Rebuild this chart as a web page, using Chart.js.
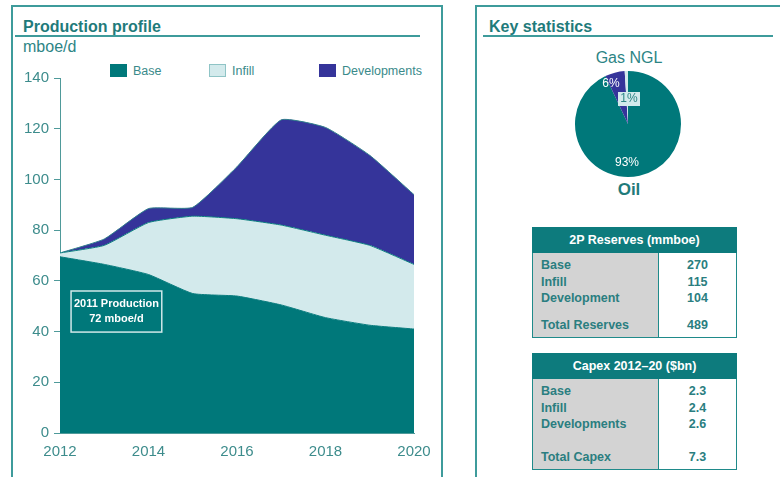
<!DOCTYPE html>
<html>
<head>
<meta charset="utf-8">
<script src="https://cdn.jsdelivr.net/npm/chart.js@4/dist/chart.umd.min.js"></script>
<style>
  html, body { margin: 0; padding: 0; background: #fff; }
  body { width: 780px; height: 477px; position: relative; overflow: hidden; font-family: "Liberation Sans", Arial, sans-serif; color: #1f7b7b; }
  .panel { position: absolute; border: 2px solid #3e9b9b; }
  .title { position: absolute; font-weight: bold; font-size: 16px; color: #1f7b7b; }
  .rule { position: absolute; height: 0; border-top: 2px solid #3e9b9b; }
  .abs { position: absolute; }
  .leg { position: absolute; font-size: 12.5px; color: #3a8a8a; line-height: 14px; }
  .leg span { display: inline-block; width: 17px; height: 13px; vertical-align: -2px; margin-right: 6px; box-sizing: border-box; }
  table { position: absolute; border-collapse: collapse; font-size: 12.5px; font-weight: bold; color: #2a7e80; }
  table th { background: #0d7b7d; color: #fff; height: 24px; padding: 0; border: 1.5px solid #0d7b7d; }
  table td { padding: 0 0 0 8px; line-height: 16.5px; }
  td.l { background: #d3d3d3; width: 117px; border-left: 1.5px solid #1f8a8a; }
  td.v { background: #fff; text-align: center; padding-left: 0; border-left: 1.5px solid #1f8a8a; border-right: 1.5px solid #1f8a8a; }
  tr.last td { border-bottom: 1.5px solid #1f8a8a; }
  #prodBox { position: absolute; left: 0; top: 0; width: 450px; height: 477px; }
  #mixBox { position: absolute; left: 574px; top: 70px; width: 108px; height: 108px; }
</style>
</head>
<body>
<div class="panel" style="left:11px; top:5px; width:428px; height:500px;"></div>
<div class="panel" style="left:475px; top:5px; width:400px; height:500px;"></div>

<div class="title" style="left:23px; top:18px;">Production profile</div>
<div class="rule" style="left:15px; top:35px; width:405px;"></div>
<div class="abs" style="left:23px; top:38px; font-size:16px; color:#2d8585;">mboe/d</div>

<div class="leg" style="left:110px; top:64px;"><span style="background:#00787a;"></span>Base</div>
<div class="leg" style="left:209px; top:64px;"><span style="background:#d3eaec; border:1px solid #8fc4c6;"></span>Infill</div>
<div class="leg" style="left:319px; top:64px;"><span style="background:#35349a;"></span>Developments</div>

<div class="title" style="left:489px; top:18px;">Key statistics</div>
<div class="rule" style="left:483px; top:35px; width:290px;"></div>

<div class="abs" style="left:560px; top:49px; width:138px; text-align:center; font-size:16px; color:#2d8585;">Gas NGL</div>
<div class="abs" style="left:560px; top:180px; width:138px; text-align:center; font-size:17px; font-weight:bold; color:#1f7b7b;">Oil</div>

<div id="prodBox"><canvas id="prod"></canvas></div>
<div id="mixBox"><canvas id="mix"></canvas></div>

<table id="reserves" style="left:532px; top:227px; width:205px;"></table>
<table id="capex" style="left:532px; top:353px; width:205px;"></table>

<script>
const years = [2012, 2013, 2014, 2015, 2016, 2017, 2018, 2019, 2020];
const base = [69.5, 66.5, 62.5, 55, 54, 50.5, 45.5, 42.5, 41];
const infill = [1.5, 7.5, 20.5, 30.5, 30.5, 31.5, 32.5, 31.5, 25.5];
const developments = [0, 2.5, 5.5, 3.5, 20.5, 41.5, 42.5, 35.5, 27.5];
const yTicks = [0, 20, 40, 60, 80, 100, 120, 140];
const xTicks = [2012, 2014, 2016, 2018, 2020];

const mixLabels = ['Oil', 'Gas', 'NGL'];
const mixValues = [93, 6, 1];

const reserveItems = ['Base', 'Infill', 'Development'];
const reserveValues = ['270', '115', '104'];
const reserveTotal = ['Total Reserves', '489'];

const capexItems = ['Base', 'Infill', 'Developments'];
const capexValues = ['2.3', '2.4', '2.6'];
const capexTotal = ['Total Capex', '7.3'];

const tealText = '#3d8c8c';
const font = '"Liberation Sans", Arial, sans-serif';

function points(values) {
    return years.map((y, i) => ({ x: y, y: values[i] }));
}

// box with the 2011 production note, placed in data units
const noteBox = {
    id: 'noteBox',
    afterDatasetsDraw(chart) {
        const { ctx, scales } = chart;
        const x1 = scales.x.getPixelForValue(2012.25), x2 = scales.x.getPixelForValue(2014.3);
        const y1 = scales.y.getPixelForValue(56), y2 = scales.y.getPixelForValue(39.8);
        ctx.save();
        ctx.strokeStyle = '#cfe8e9';
        ctx.lineWidth = 1.5;
        ctx.strokeRect(x1, y1, x2 - x1, y2 - y1);
        ctx.fillStyle = '#ffffff';
        ctx.font = 'bold 11px ' + font;
        ctx.textAlign = 'center';
        ctx.textBaseline = 'middle';
        const cx = (x1 + x2) / 2;
        ctx.fillText('2011 Production', cx, y1 + 13);
        ctx.fillText('72 mboe/d', cx, y1 + 28);
        ctx.restore();
    }
};

new Chart(document.getElementById('prod').getContext('2d'), {
    type: 'line',
    data: {
        datasets: [
            { label: 'Base', data: points(base), backgroundColor: '#00787a', borderColor: '#0a7d7f', fill: 'origin' },
            { label: 'Infill', data: points(infill), backgroundColor: '#d3eaec', borderColor: '#0a7d7f', fill: '-1' },
            { label: 'Developments', data: points(developments), backgroundColor: '#35349a', borderColor: '#2f7f8a', fill: '-1' },
        ]
    },
    options: {
        responsive: true,
        maintainAspectRatio: false,
        animation: false,
        elements: {
            point: { radius: 0 },
            line: { borderWidth: 1, tension: 0.15 }
        },
        layout: { padding: { left: 10, right: 36, top: 78, bottom: 14 } },
        plugins: { legend: { display: false }, tooltip: { enabled: false } },
        scales: {
            x: {
                type: 'linear',
                min: 2012,
                max: 2020,
                afterFit: (s) => { s.height = 30; },
                afterBuildTicks: (s) => { s.ticks = xTicks.map(v => ({ value: v })); },
                ticks: { color: tealText, font: { size: 15, family: font }, padding: 10, maxRotation: 0, callback: v => String(v) },
                grid: { display: false, drawTicks: false },
                border: { display: true, color: '#4f9a9a', width: 1 }
            },
            y: {
                stacked: true,
                min: 0,
                max: 140,
                afterFit: (s) => { s.width = 50; },
                afterBuildTicks: (s) => { s.ticks = yTicks.map(v => ({ value: v })); },
                ticks: { color: tealText, font: { size: 15, family: font }, padding: 5 },
                grid: { drawOnChartArea: false, tickLength: 6, color: '#4f9a9a', lineWidth: 1 },
                border: { display: true, color: '#4f9a9a', width: 1 }
            }
        }
    },
    plugins: [noteBox]
});

// percentage labels around the pie, offsets from its centre
const mixText = [
    { text: '93%', dx: -1, dy: 39, color: '#ffffff', box: null },
    { text: '6%', dx: -17, dy: -40, color: '#ffffff', box: null },
    { text: '1%', dx: 1, dy: -25, color: '#2d8585', box: '#d3eaec' },
];

const mixLabelPlugin = {
    id: 'mixLabels',
    afterDatasetsDraw(chart) {
        const { ctx } = chart;
        const arc = chart.getDatasetMeta(0).data[0];
        ctx.save();
        ctx.font = '12px ' + font;
        ctx.textAlign = 'center';
        ctx.textBaseline = 'middle';
        mixText.forEach(l => {
            const x = arc.x + l.dx, y = arc.y + l.dy;
            if (l.box) {
                ctx.fillStyle = l.box;
                ctx.fillRect(x - 11, y - 7, 22, 14);
            }
            ctx.fillStyle = l.color;
            ctx.fillText(l.text, x, y);
        });
        ctx.restore();
    }
};

new Chart(document.getElementById('mix').getContext('2d'), {
    type: 'pie',
    data: {
        labels: mixLabels,
        datasets: [{
            data: mixValues,
            backgroundColor: ['#00787a', '#35349a', '#d3eaec'],
            borderWidth: 0
        }]
    },
    options: {
        responsive: true,
        maintainAspectRatio: false,
        animation: false,
        rotation: 0,
        layout: { padding: 1 },
        plugins: { legend: { display: false }, tooltip: { enabled: false } }
    },
    plugins: [mixLabelPlugin]
});

function fillTable(id, title, items, values, total, gap) {
    const t = document.getElementById(id);
    let html = '<tr><th colspan="2">' + title + '</th></tr>';
    items.forEach((name, i) => {
        const pad = i === 0 ? ' style="padding-top:4px"' : '';
        html += '<tr><td class="l"' + pad + '>' + name + '</td><td class="v"' + pad + '>' + values[i] + '</td></tr>';
    });
    const st = ' style="padding-top:' + gap + 'px;padding-bottom:4px"';
    html += '<tr class="last"><td class="l"' + st + '>' + total[0] + '</td><td class="v"' + st + '>' + total[1] + '</td></tr>';
    t.innerHTML = html;
}

fillTable('reserves', '2P Reserves (mmboe)', reserveItems, reserveValues, reserveTotal, 10);
fillTable('capex', 'Capex 2012\u201320 ($bn)', capexItems, capexValues, capexTotal, 16);
</script>
</body>
</html>
